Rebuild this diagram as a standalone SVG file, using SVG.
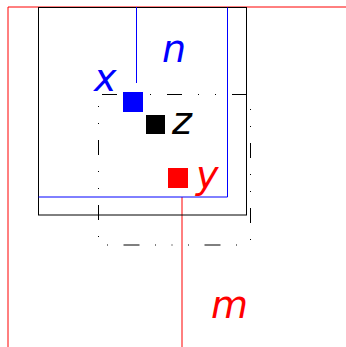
<svg xmlns="http://www.w3.org/2000/svg" width="346" height="347" viewBox="0 0 346 347">
  <style>
    .lbl { font-family: "DejaVu Sans", "Liberation Sans", sans-serif; font-style: italic; font-size: 38px; }
    .red { stroke: #ff0000; fill: none; stroke-width: 1; }
    .blue { stroke: #0000ff; fill: none; stroke-width: 1; }
    .blk { stroke: #000000; fill: none; stroke-width: 1; }
    .dd { stroke: #000000; fill: none; stroke-width: 1; }
  </style>
  <rect width="346" height="347" fill="#ffffff"/>
  <g id="connectors">
    <g id="m-frame">
      <path class="red" d="M8,347 V7 H346"/>
      <line class="red" x1="182" y1="197" x2="182" y2="347"/>
    </g>
    <rect id="outer-frame" class="blk" x="38.5" y="7.5" width="208" height="207.5"/>
    <g id="n-frame">
      <path class="blue" d="M38.5,197 H227.5 V7.5"/>
      <line class="blue" x1="136.5" y1="7" x2="136.5" y2="83"/>
    </g>
    <g id="dashdot-frame">
      <line class="dd" x1="98" y1="94.5" x2="250" y2="94.5" stroke-dasharray="15 16 1 16 1 16" stroke-dashoffset="61"/>
      <line class="dd" x1="250.5" y1="95" x2="250.5" y2="245" stroke-dasharray="15 16 1 16 1 16" stroke-dashoffset="17"/>
      <line class="dd" x1="98.5" y1="95" x2="98.5" y2="245" stroke-dasharray="15 16 1 16 1 16" stroke-dashoffset="20"/>
      <line class="dd" x1="98" y1="245" x2="250" y2="245" stroke-dasharray="16 15.5 1 15.5 1 15.5 1 15.5" stroke-dashoffset="55.5"/>
    </g>
  </g>
  <g id="node-x">
    <rect x="123" y="92" width="20" height="20" fill="#0000ff"/>
    <text class="lbl" x="94" y="91" fill="#0000ff">x</text>
  </g>
  <g id="node-z">
    <rect x="146" y="115" width="19" height="19" fill="#000000"/>
    <text class="lbl" x="172" y="134" fill="#000000">z</text>
  </g>
  <g id="node-y">
    <rect x="168" y="168" width="20" height="20" fill="#ff0000"/>
    <text class="lbl" x="196" y="188" fill="#ff0000">y</text>
  </g>
  <g id="label-n">
    <text class="lbl" x="162" y="62" fill="#0000ff">n</text>
  </g>
  <g id="label-m">
    <text class="lbl" x="211" y="318" fill="#ff0000">m</text>
  </g>
</svg>
